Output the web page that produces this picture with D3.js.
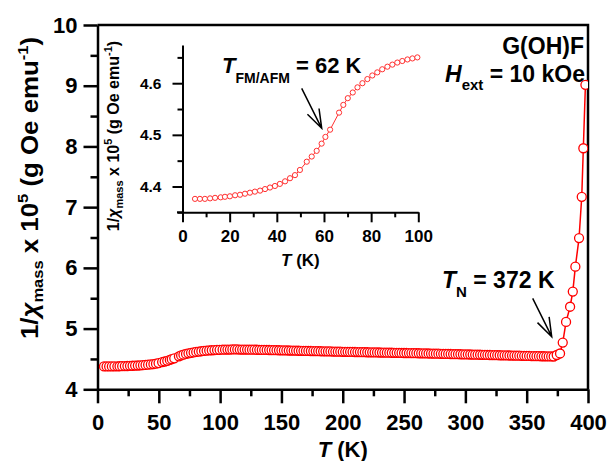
<!DOCTYPE html>
<html><head><meta charset="utf-8">
<script src="https://cdn.jsdelivr.net/npm/d3@7"></script>
<style>
body{margin:0;background:#fff}
svg{display:block}
text{font-family:"Liberation Sans",Arial,sans-serif;font-weight:bold;fill:#000}
</style>
</head><body>
<svg id="chart" width="609" height="461"></svg>
<script>
// ---- data ----
// low-temperature part (also shown in the inset)
const lowT = [5.3,7.4,9.5,11.7,13.8,16.2,18.0,20.1,22.3,24.4,26.5,28.6,30.7,32.9,35.0,37.1,39.2,41.3,43.5,45.6,47.7,49.8,
  52.7,54.8,56.9,59.0,60.6,62.6,66.4,68.2,70.1,72.2,74.2,76.3,78.4,80.5,82.6,84.7,86.9,89.0,91.1,93.2,95.4,97.5,99.6];
const lowV = [4.376,4.376,4.376,4.377,4.378,4.379,4.380,4.381,4.383,4.384,4.386,4.388,4.390,4.392,4.395,4.398,4.401,4.405,4.410,4.416,4.422,4.432,
  4.448,4.458,4.469,4.483,4.496,4.510,4.543,4.558,4.571,4.582,4.592,4.600,4.608,4.615,4.621,4.627,4.632,4.636,4.640,4.643,4.646,4.648,4.650];
// plateau
const midT = [102,104,106,108,110,112,114,116,118,120,122,124,126,128,130,132,134,136,138,140,142,144,146,148,150,152,154,156,158,160,
  162,164,166,168,170,172,174,176,178,180,182,184,186,188,190,192,194,196,198,200,202,204,206,208,210,212,214,216,218,220,
  222,224,226,228,230,232,234,236,238,240,242,244,246,248,250,252,254,256,258,260,262,264,266,268,270,272,274,276,278,280,
  282,284,286,288,290,292,294,296,298,300,302,304,306,308,310,312,314,316,318,320,322,324,326,328,330,332,334,336,338,340,
  342,344,346,348,350,352,354,356,358,360,362,364,366,368,370,372];
const midV = [4.652,4.653,4.654,4.655,4.656,4.656,4.656,4.655,4.655,4.655,4.654,4.653,4.652,4.652,4.651,4.650,4.649,4.648,4.648,4.647,
  4.646,4.645,4.644,4.643,4.642,4.641,4.640,4.639,4.638,4.637,4.636,4.635,4.634,4.633,4.632,4.632,4.631,4.630,4.629,4.628,
  4.627,4.626,4.625,4.624,4.623,4.622,4.621,4.620,4.619,4.618,4.617,4.617,4.616,4.615,4.614,4.613,4.613,4.612,4.611,4.610,
  4.609,4.609,4.608,4.607,4.606,4.605,4.605,4.604,4.603,4.602,4.601,4.601,4.600,4.599,4.598,4.598,4.597,4.596,4.595,4.595,
  4.594,4.593,4.592,4.591,4.590,4.589,4.588,4.587,4.586,4.585,4.584,4.583,4.582,4.581,4.580,4.579,4.578,4.577,4.576,4.575,
  4.574,4.573,4.572,4.571,4.570,4.569,4.568,4.567,4.566,4.565,4.564,4.563,4.562,4.561,4.560,4.559,4.558,4.557,4.556,4.555,
  4.554,4.553,4.552,4.551,4.550,4.549,4.548,4.547,4.546,4.545,4.544,4.544,4.543,4.542,4.541,4.540];
// rise above T_N
const highT = [374.5,377.2,379.4,382.1,385.4,387.6,389.7,392.7,394.9,396.2,397.9];
const highV = [4.565,4.59,4.77,5.11,5.36,5.61,6.02,6.49,7.17,7.97,9.015];

const xTicksMain = [0,50,100,150,200,250,300,350,400];
const yTicksMain = [4,5,6,7,8,9,10];
const xTicksInset = [0,20,40,60,80,100];
const yTicksInset = [4.4,4.5,4.6];

const mainData = lowT.map((t,i)=>[t,lowV[i]])
  .concat(midT.map((t,i)=>[t,midV[i]]))
  .concat(highT.map((t,i)=>[t,highV[i]]));
const insetData = lowT.map((t,i)=>[t,lowV[i]]);

const svg = d3.select("#chart");
const FONT = "'Liberation Sans',Arial,sans-serif";

function rich(sel, parts, fs) {
  parts.forEach(p => {
    const ts = sel.append("tspan").text(p.t).style("font-size", (p.s||fs)+"px");
    if (p.i) ts.style("font-style","italic");
    if (p.dy) ts.attr("dy", p.dy);
  });
  return sel;
}

// ---- main plot ----
const x = d3.scaleLinear().domain([0,400]).range([97.5,588]);
const y = d3.scaleLinear().domain([4,10]).range([389.3,25]);

const gx = svg.append("g").attr("transform","translate(0,389.3)");
gx.call(d3.axisBottom(x).tickValues(d3.range(25,400,50)).tickSize(7).tickSizeOuter(0).tickFormat(""));
gx.call(g=>g.select(".domain").remove());
const gx2 = svg.append("g").attr("transform","translate(0,389.3)");
gx2.call(d3.axisBottom(x).tickValues(xTicksMain).tickSize(14).tickSizeOuter(0).tickPadding(11).tickFormat(d3.format("d")));
const gy = svg.append("g").attr("transform","translate(97.5,0)");
gy.call(d3.axisLeft(y).tickValues(d3.range(4.5,10,1)).tickSize(7).tickSizeOuter(0).tickFormat(""));
gy.call(g=>g.select(".domain").remove());
const gy2 = svg.append("g").attr("transform","translate(97.5,0)");
gy2.call(d3.axisLeft(y).tickValues(yTicksMain).tickSize(14).tickSizeOuter(0).tickPadding(6).tickFormat(d3.format("d")));

svg.selectAll(".tick line").attr("stroke","#000").attr("stroke-width",2.5);
[gx2,gy2].forEach(g=>{
  g.select(".domain").attr("stroke","#000").attr("stroke-width",2.5);
  g.selectAll("text").style("font-size","22px").style("font-family",FONT).style("font-weight","bold");
});
svg.append("path").attr("d",`M${x(0)},${y(10)}H${x(400)}V${y(4)}`).attr("fill","none").attr("stroke","#000").attr("stroke-width",2.5);

// series
svg.append("clipPath").attr("id","cm").append("rect")
  .attr("x",x(0)).attr("y",y(10)-8).attr("width",x(400)-x(0)).attr("height",y(4)-y(10)+8);
const gm = svg.append("g").attr("clip-path","url(#cm)");
gm.append("path").datum(mainData)
  .attr("d", d3.line().x(d=>x(d[0])).y(d=>y(d[1])))
  .attr("fill","none").attr("stroke","#ff0000").attr("stroke-width",1.5);
gm.selectAll("circle").data(mainData).join("circle")
  .attr("cx",d=>x(d[0])).attr("cy",d=>y(d[1])).attr("r",4.5)
  .attr("fill","#fff").attr("stroke","#ff0000").attr("stroke-width",1.3);

// axis titles
rich(svg.append("text").attr("x",x(200)).attr("y",457).attr("text-anchor","middle"),
  [{t:"T",i:true},{t:" (K)"}],22);
rich(svg.append("text").attr("transform","translate(38,188) rotate(-90) scale(1.1,1)").attr("text-anchor","middle"),
  [{t:"1/"},{t:"χ",i:true},{t:"mass",s:15,dy:5},{t:" x 10",dy:-5},{t:"5",s:15,dy:-10},{t:" (g Oe emu",dy:10},{t:"-1",s:15,dy:-10},{t:")",dy:10}],23.5);

// annotations
rich(svg.append("text").attr("x",584).attr("y",53.5).attr("text-anchor","end"),[{t:"G(OH)F"}],23);
rich(svg.append("text").attr("x",585).attr("y",81.7).attr("text-anchor","end"),
  [{t:"H",i:true},{t:"ext",s:15,dy:8},{t:" = 10 kOe",dy:-8}],23);
rich(svg.append("text").attr("x",442).attr("y",288.3),
  [{t:"T",i:true},{t:"N",s:15,dy:9},{t:" = 372 K",dy:-9}],23);

function arrow(x1,y1,x2,y2,len,ang){
  const a = Math.atan2(y2-y1,x2-x1);
  const p1=[x2-len*Math.cos(a-ang), y2-len*Math.sin(a-ang)];
  const p2=[x2-len*Math.cos(a+ang), y2-len*Math.sin(a+ang)];
  svg.append("path").attr("d",`M${x1},${y1}L${x2},${y2}M${p1[0]},${p1[1]}L${x2},${y2}L${p2[0]},${p2[1]}`)
    .attr("fill","none").attr("stroke","#000").attr("stroke-width",1.5);
}
arrow(532.7,298.3,551.7,336.7,20,0.33);
arrow(301.7,88.3,321.7,128.3,20,0.33);

// ---- inset ----
const xi = d3.scaleLinear().domain([0,100]).range([182.5,418.3]);
const yi = d3.scaleLinear().domain([4.35,4.674]).range([212.3,45]);

const gxi = svg.append("g").attr("transform","translate(0,212.3)");
gxi.call(d3.axisBottom(xi).tickValues(d3.range(10,100,20)).tickSize(5).tickSizeOuter(0).tickFormat(""));
gxi.call(g=>g.select(".domain").remove());
const gxi2 = svg.append("g").attr("transform","translate(0,212.3)");
gxi2.call(d3.axisBottom(xi).tickValues(xTicksInset).tickSize(10).tickSizeOuter(0).tickPadding(8).tickFormat(d3.format("d")));
const gyi = svg.append("g").attr("transform","translate(182.5,0)");
gyi.call(d3.axisLeft(yi).tickValues([4.35,4.45,4.55,4.65]).tickSize(5).tickSizeOuter(0).tickFormat(""));
gyi.call(g=>g.select(".domain").remove());
const gyi2 = svg.append("g").attr("transform","translate(182.5,0)");
gyi2.call(d3.axisLeft(yi).tickValues(yTicksInset).tickSize(10).tickSizeOuter(0).tickPadding(11).tickFormat(d3.format(".1f")));
[gxi,gxi2,gyi,gyi2].forEach(g=>g.selectAll(".tick line").attr("stroke","#000").attr("stroke-width",2));
[gxi2,gyi2].forEach(g=>g.select(".domain").attr("stroke","#000").attr("stroke-width",2));
gxi2.selectAll("text").style("font-size","17px").style("font-family",FONT).style("font-weight","bold");
gyi2.selectAll("text").style("font-size","15.5px").style("font-family",FONT).style("font-weight","bold");
svg.append("path").attr("d",`M177,212.3H${xi(0)}`).attr("stroke","#000").attr("stroke-width",2);

const gi = svg.append("g");
gi.append("path").datum(insetData)
  .attr("d", d3.line().x(d=>xi(d[0])).y(d=>yi(d[1])))
  .attr("fill","none").attr("stroke","#ff3030").attr("stroke-width",1);
gi.selectAll("circle").data(insetData).join("circle")
  .attr("cx",d=>xi(d[0])).attr("cy",d=>yi(d[1])).attr("r",2.6)
  .attr("fill","#fff").attr("stroke","#ff3030").attr("stroke-width",1);

rich(svg.append("text").attr("x",xi(50)).attr("y",265.5).attr("text-anchor","middle"),
  [{t:"T",i:true},{t:" (K)"}],17);
rich(svg.append("text").attr("transform","translate(119,136) rotate(-90)").attr("text-anchor","middle"),
  [{t:"1/"},{t:"χ",i:true},{t:"mass",s:11,dy:4},{t:" x 10",dy:-4},{t:"5",s:11,dy:-7},{t:" (g Oe emu",dy:7},{t:"-1",s:11,dy:-7},{t:")",dy:7}],16);

rich(svg.append("text").attr("x",222).attr("y",73.3),
  [{t:"T",i:true},{t:"FM/AFM",s:14,dy:10},{t:" = 62 K",dy:-10}],22);
</script>
</body></html>
